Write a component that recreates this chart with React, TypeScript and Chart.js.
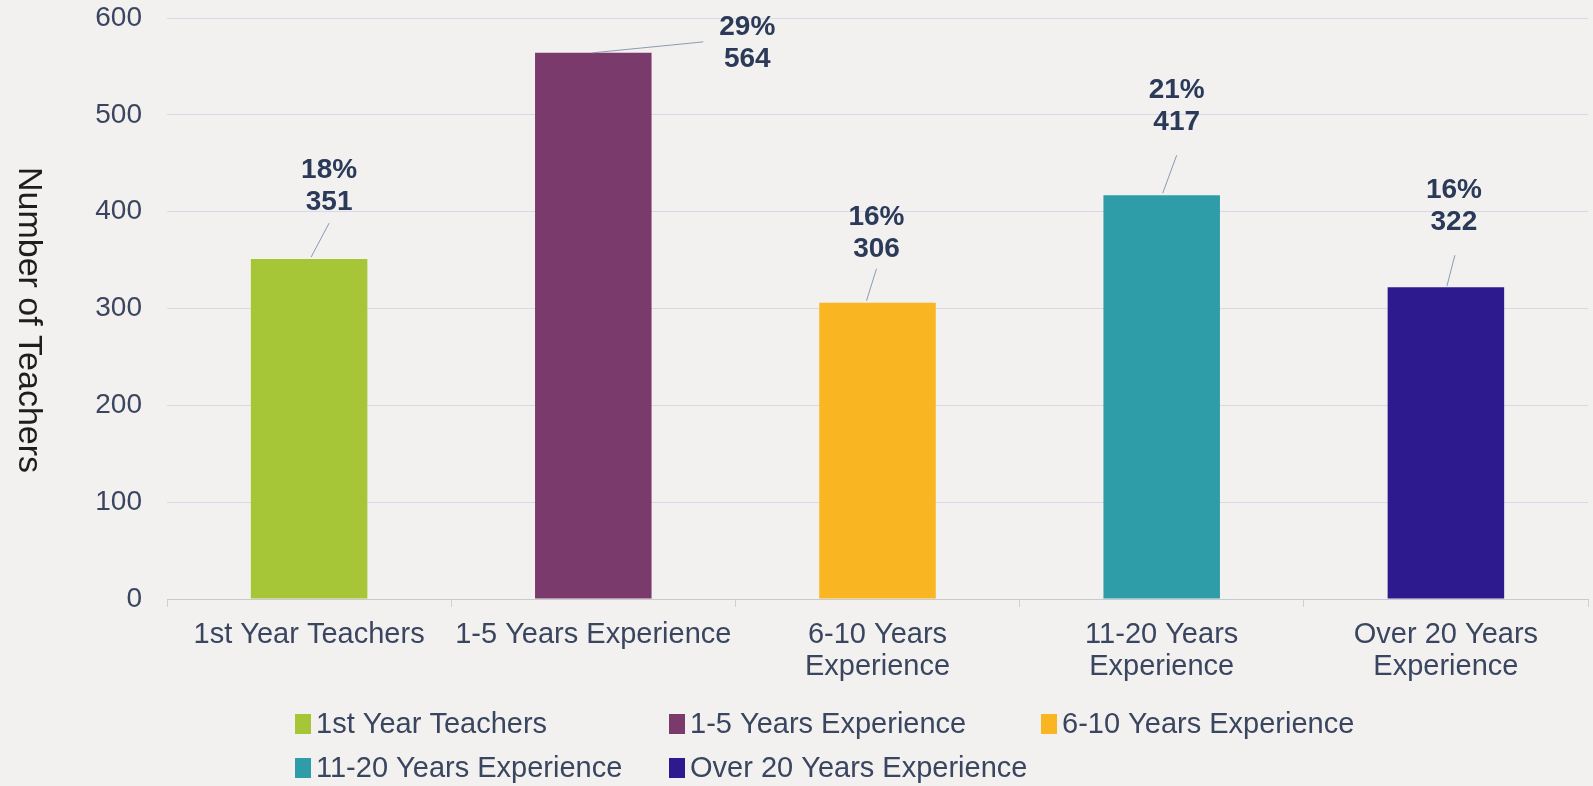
import React, { useEffect, useRef } from "react";
import { Chart, registerables } from "chart.js";

Chart.register(...registerables);

const categories = [
  "1st Year Teachers",
  "1-5 Years Experience",
  "6-10 Years Experience",
  "11-20 Years Experience",
  "Over 20 Years Experience",
];
const teacherCounts = [351, 564, 306, 417, 322];
const percentLabels = ["18%", "29%", "16%", "21%", "16%"];
const xTickLabels = [
  ["1st Year Teachers"],
  ["1-5 Years Experience"],
  ["6-10 Years", "Experience"],
  ["11-20 Years", "Experience"],
  ["Over 20 Years", "Experience"],
];
const yTickValues = [0, 100, 200, 300, 400, 500, 600];
const barColors = ["#a6c638", "#7b3a6c", "#f9b522", "#2e9da8", "#2c1a8e"];

// label placement relative to bar top centre (layout only)
const labelOffsets = [
  { dx: 20, dy: -89, sx: 2, sy: -2, ex: 20, ey: -36 },
  { dx: 154, dy: -26, sx: -1, sy: 0, ex: 110, ey: -11 },
  { dx: -1, dy: -85, sx: -11, sy: -2, ex: -1, ey: -34 },
  { dx: 15, dy: -105, sx: 1, sy: -2, ex: 15, ey: -40 },
  { dx: 8, dy: -97, sx: 1, sy: -1, ex: 9, ey: -32 },
];

const FONT = "'Liberation Sans', Arial, sans-serif";
const TEXT = "#3a4560";

const bgPlugin = {
  id: "bg",
  beforeDraw(chart: any) {
    const { ctx, width, height } = chart;
    ctx.save();
    ctx.fillStyle = "#f2f1ef";
    ctx.fillRect(0, 0, width, height);
    ctx.restore();
  },
};

const labelPlugin = {
  id: "barLabels",
  afterDatasetsDraw(chart: any) {
    const { ctx } = chart;
    const meta = chart.getDatasetMeta(0);
    ctx.save();
    meta.data.forEach((el: any, i: number) => {
      const o = labelOffsets[i];
      const x = el.x;
      const y = el.y;
      ctx.strokeStyle = "#8d9ab3";
      ctx.lineWidth = 1;
      ctx.beginPath();
      ctx.moveTo(x + o.sx, y + o.sy);
      ctx.lineTo(x + o.ex, y + o.ey);
      ctx.stroke();
      ctx.fillStyle = "#2b3a58";
      ctx.font = `bold 28px ${FONT}`;
      ctx.textAlign = "center";
      ctx.textBaseline = "middle";
      ctx.fillText(percentLabels[i], x + o.dx, y + o.dy);
      ctx.fillText(String(chart.data.datasets[0].data[i]), x + o.dx, y + o.dy + 32);
    });
    ctx.restore();
  },
};

const legendPlugin = {
  id: "gridLegend",
  afterDraw(chart: any) {
    const { ctx } = chart;
    const cols = [295, 669, 1041];
    const rows = [724, 768];
    const labels: string[] = chart.data.labels;
    const colors: string[] = chart.data.datasets[0].backgroundColor;
    ctx.save();
    ctx.font = `29px ${FONT}`;
    ctx.textBaseline = "middle";
    ctx.textAlign = "left";
    labels.forEach((lab, i) => {
      const cx = cols[i % 3];
      const cy = rows[Math.floor(i / 3)];
      ctx.fillStyle = colors[i];
      ctx.fillRect(cx, cy - 10, 16, 20);
      ctx.fillStyle = TEXT;
      ctx.fillText(lab, cx + 21, cy + 1);
    });
    ctx.restore();
  },
};

const yTitlePlugin = {
  id: "yTitle",
  afterDraw(chart: any) {
    const { ctx } = chart;
    ctx.save();
    ctx.translate(28, 320);
    ctx.rotate(Math.PI / 2);
    ctx.font = `34px ${FONT}`;
    ctx.fillStyle = "#1e1e1e";
    ctx.textAlign = "center";
    ctx.textBaseline = "middle";
    ctx.fillText("Number of Teachers", 0, 0);
    ctx.restore();
  },
};

export default function App() {
  const ref = useRef<HTMLCanvasElement | null>(null);
  useEffect(() => {
    if (!ref.current) return;
    const chart = new Chart(ref.current, {
      type: "bar",
      data: {
        labels: categories,
        datasets: [
          {
            label: "Number of Teachers",
            data: teacherCounts,
            backgroundColor: barColors,
            borderWidth: 0,
            barPercentage: 0.41,
            categoryPercentage: 1,
          },
        ],
      },
      options: {
        responsive: false,
        animation: false,
        layout: { padding: { left: 0, right: 5, top: 18, bottom: 97 } },
        plugins: {
          legend: { display: false },
          tooltip: { enabled: false },
          title: { display: false },
        },
        scales: {
          x: {
            grid: {
              display: true,
              drawOnChartArea: false,
              drawTicks: true,
              tickLength: 8,
              color: "#cfd0d6",
              offset: true,
            },
            border: { display: true, color: "#c9cad0", width: 1 },
            ticks: {
              color: TEXT,
              font: { family: FONT, size: 29, lineHeight: 1.1 },
              padding: 12,
              maxRotation: 0,
              minRotation: 0,
              autoSkip: false,
              callback: (_v: any, i: number) => xTickLabels[i],
            },
            afterFit: (scale: any) => {
              scale.height = 90;
              scale.paddingLeft = 0;
              scale.paddingRight = 0;
            },
          },
          y: {
            min: 0,
            max: 600,
            afterBuildTicks: (scale: any) => {
              scale.ticks = yTickValues.map((v) => ({ value: v }));
            },
            grid: { color: "#d7d9e8", drawTicks: false, lineWidth: 1 },
            border: { display: false },
            ticks: {
              color: TEXT,
              font: { family: FONT, size: 28 },
              padding: 25,
            },
            afterFit: (scale: any) => {
              scale.width = 167;
              scale.paddingTop = 0;
              scale.paddingBottom = 0;
            },
          },
        },
      },
      plugins: [bgPlugin, labelPlugin, legendPlugin, yTitlePlugin],
    });
    return () => chart.destroy();
  }, []);
  return (
    <canvas
      ref={ref}
      width={1593}
      height={786}
      style={{ position: "absolute", left: 0, top: 0, display: "block" }}
    />
  );
}
